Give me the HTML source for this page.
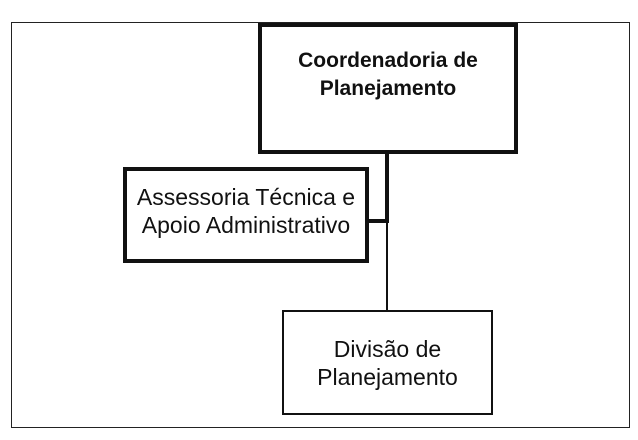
<!DOCTYPE html>
<html><head><style>
body{margin:0;background:#fff;width:638px;height:440px;position:relative;overflow:hidden;font-family:"Liberation Sans",Arial,sans-serif;}
.b{position:absolute;box-sizing:border-box;display:flex;align-items:center;justify-content:center;text-align:center;color:#111;font-size:23px;line-height:28px;white-space:nowrap;}
.l{position:absolute;background:#111;}
</style></head><body>
<div class="b" style="left:11px;top:22px;width:619px;height:406px;border:1.5px solid #222;"></div>
<div class="b" style="left:258px;top:23px;width:260px;height:131px;border:4px solid #111;font-weight:bold;font-size:21px;padding-bottom:28px;">Coordenadoria de<br>Planejamento</div>
<div class="l" style="left:385px;top:153px;width:4px;height:70px;"></div>
<div class="l" style="left:386px;top:222px;width:2px;height:90px;"></div>
<div class="l" style="left:367px;top:219px;width:21px;height:4px;"></div>
<div class="b" style="left:123px;top:167px;width:246px;height:96px;border:4px solid #111;padding-bottom:8px;">Assessoria Técnica e<br>Apoio Administrativo</div>
<div class="b" style="left:282px;top:310px;width:211px;height:105px;border:2px solid #111;">Divisão de<br>Planejamento</div>
</body></html>
